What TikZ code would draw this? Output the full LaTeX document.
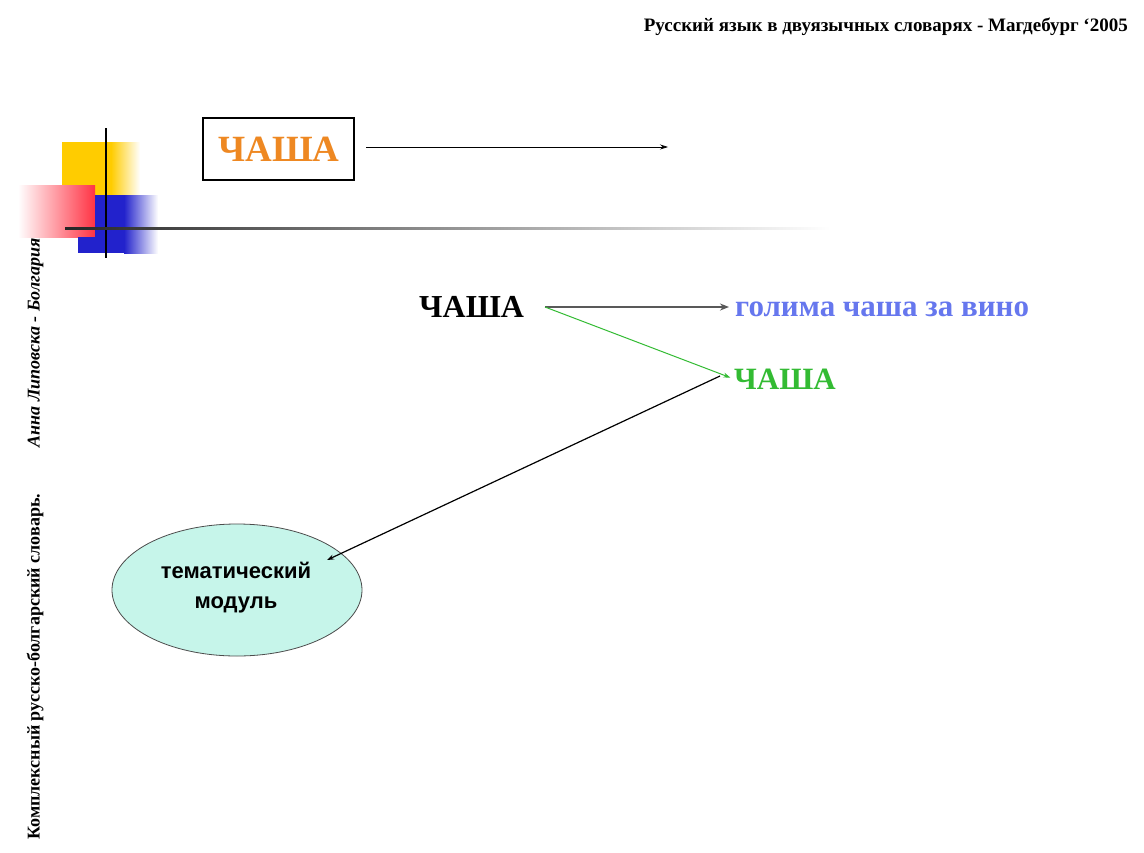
\documentclass[tikz,border=0pt]{standalone}
\usepackage{fontspec}
\setmainfont{Liberation Serif}
\newfontfamily\sansf{Liberation Sans}
\usetikzlibrary{arrows.meta}
\definecolor{decoyellow}{HTML}{FFCC00}
\definecolor{decored}{HTML}{FF3344}
\definecolor{decoblue}{HTML}{2222CC}
\definecolor{orangetxt}{HTML}{EE8822}
\definecolor{bluetxt}{HTML}{6677EE}
\definecolor{greentxt}{HTML}{33BB33}
\definecolor{ellfill}{HTML}{C6F5EA}
\tikzset{
  conn/.style={-{Stealth[length=7pt,width=5pt]}, line width=0.8pt},
  word/.style={font=\bfseries, inner sep=0pt, anchor=west},
}
\begin{document}
\begin{tikzpicture}[x=1pt,y=-1pt]
\useasboundingbox (0,0) rectangle (1144,852);
\fill[white] (0,0) rectangle (1144,852);
% header
\node[font=\bfseries\fontsize{19}{21}\selectfont, anchor=east, inner sep=0pt] (hdr) at (1128,27) {Русский язык в двуязычных словарях - Магдебург ‘2005};
% decoration
\fill[decoyellow] (62,142) rectangle (112,195);
\shade[left color=decoyellow, right color=white] (111,142) rectangle (140,195);
\shade[left color=white, right color=decored] (18,185) rectangle (95,237);
\fill[decoblue] (95,195) rectangle (125,253);
\fill[decoblue] (78,237) rectangle (96,253);
\shade[left color=decoblue, right color=white] (124,195) rectangle (158,253);
\draw[line width=1.5pt, black] (106,128) -- (106,258);
\shade[left color=black!85, right color=white] (65,227) rectangle (830,229.5);
% orange box
\node[draw, line width=2pt, minimum width=151pt, minimum height=62pt, inner sep=0pt] (box) at (278.5,149) {};
\node[font=\bfseries\fontsize{37}{40}\selectfont, text=orangetxt, inner sep=0pt] (ctop) at (279,149) {ЧАША};
\coordinate (topend) at (668,147);
\draw[-{Stealth[length=8pt,width=5pt]}, line width=0.7pt] (box.east |- 0,147) ++(11,0) coordinate (tops) -- (topend);
% main words
\node[word, font=\bfseries\fontsize{32}{36}\selectfont] (c1) at (419,307) {ЧАША};
\node[word, font=\bfseries\fontsize{31}{35}\selectfont, text=bluetxt] (def) at (735,309) {голима чаша за вино};
\node[word, font=\bfseries\fontsize{31}{35}\selectfont, text=greentxt] (c2) at (734,379) {ЧАША};
\coordinate (c1r) at (545,307);
\draw[conn, line width=2.2pt, black!65, -{Stealth[length=9pt,width=7pt]}, shorten >=6pt] (c1r) -- (def.west |- c1r);
\draw[conn, greentxt, line width=1pt, shorten >=4pt] (c1r) -- (c2.west);
% ellipse
\draw[fill=ellfill, draw=black!70, line width=0.8pt] (237,590) ellipse [x radius=125, y radius=66];
\node[font=\sansf\bfseries\fontsize{22}{30}\selectfont, align=center, inner sep=0pt] (mod) at (236,588) {тематический\\модуль};
\coordinate (modin) at (327,560);
\draw[conn, line width=1.2pt] ([xshift=-14pt,yshift=3pt]c2.west) -- (modin);
% side text
\node[rotate=90, anchor=west, inner sep=0pt, font=\bfseries\fontsize{18}{20}\selectfont] (side) at (35,840) {Комплексный русско-болгарский словарь.\hspace{2.6em}\textit{Анна Липовска - Болгария}};
\end{tikzpicture}
\end{document}
